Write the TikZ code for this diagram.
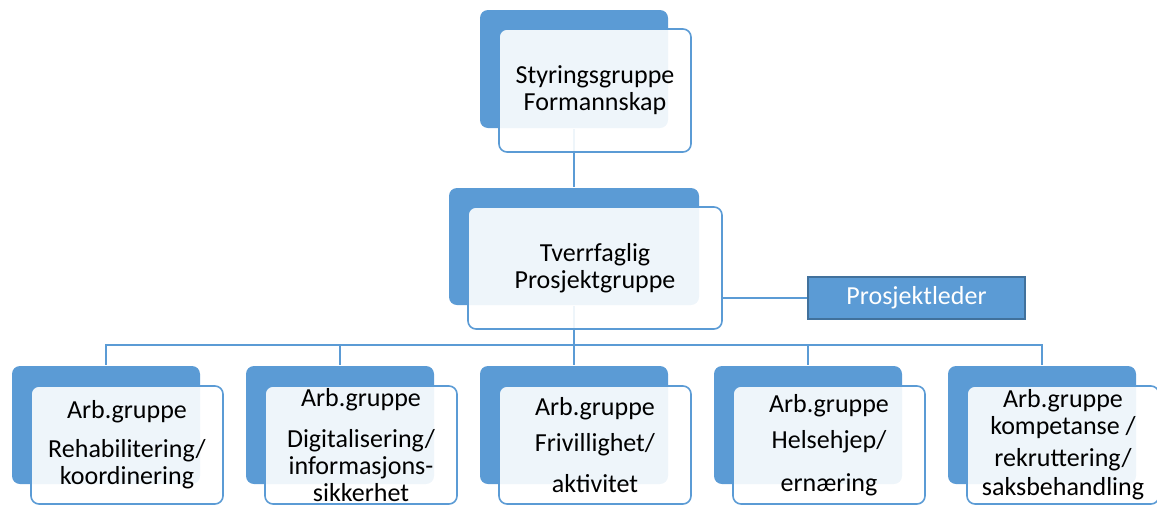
\documentclass[tikz,border=0pt]{standalone}
\usepackage{fontspec}
\setmainfont{Carlito}
\usetikzlibrary{backgrounds}
\definecolor{orgblue}{RGB}{91,155,213}
\definecolor{orgdark}{RGB}{65,113,156}

\begin{document}
\begin{tikzpicture}[x=1pt, y=-1pt, line width=1.6pt,
    back/.style={fill=orgblue, rounded corners=8pt, inner sep=0pt, minimum width=188pt, minimum height=118pt},
    front/.style={draw=orgblue, fill=white, fill opacity=0.9, text opacity=1, rounded corners=8pt,
        inner sep=0pt, minimum width=192pt, minimum height=120pt, align=center,
        font=\fontsize{26}{27}\selectfont},
    link/.style={draw=orgblue, line width=1.6pt}]
    \useasboundingbox (0,0) rectangle (1157,504);

    % top
    \node[back] (topb) at (574,69) {};
    \node[front, minimum height=123pt] (topf) at (595,90.5) {Styringsgruppe\\Formannskap};

    % middle
    \node[back, minimum width=250pt, minimum height=117pt] (midb) at (574,246.5) {};
    \node[front, minimum width=254pt, minimum height=122pt] (midf) at (595,268) {Tverrfaglig\\Prosjektgruppe};
    \node[fill=orgblue, draw=orgdark, line width=1.5pt, minimum width=217pt, minimum height=42pt,
        inner sep=0pt, text=white, font=\fontsize{26}{28}\selectfont] (pl) at (916.5,298) {Prosjektleder};

    % working groups
    \node[back] (b1) at (106,425) {};
    \node[front, minimum height=118pt] (f1) at (127,445) {Arb.gruppe\\[12pt]Rehabilitering/\\koordinering};
    \node[back] (b2) at (340,425) {};
    \node[front, minimum height=118pt] (f2) at (361,445) {Arb.gruppe\\[14pt]Digitalisering/\\informasjons-\\sikkerhet};
    \node[back] (b3) at (574,425) {};
    \node[front, minimum height=118pt] (f3) at (595,445) {Arb.gruppe\\[9pt]Frivillighet/\\[14pt]aktivitet};
    \node[back] (b4) at (808,425) {};
    \node[front, minimum height=118pt] (f4) at (829,445) {Arb.gruppe\\[9pt]Helsehjep/\\[16pt]ernæring};
    \node[back] (b5) at (1042,425) {};
    \node[front, minimum height=118pt] (f5) at (1063,445) {Arb.gruppe\\kompetanse /\\[5pt]rekruttering/\\[2pt]saksbehandling};

    \coordinate (bus) at (574,345);

    \begin{pgfonlayer}{background}
        \draw[link] (topb.south) -- (midb.north);
        \draw[link] (midb.south) -- (bus);
        \foreach \i in {1,...,5}
            \draw[link] (bus) -| (b\i.north);
        \draw[link] (midf.east |- pl.west) -- (pl.west);
    \end{pgfonlayer}
\end{tikzpicture}
\end{document}
